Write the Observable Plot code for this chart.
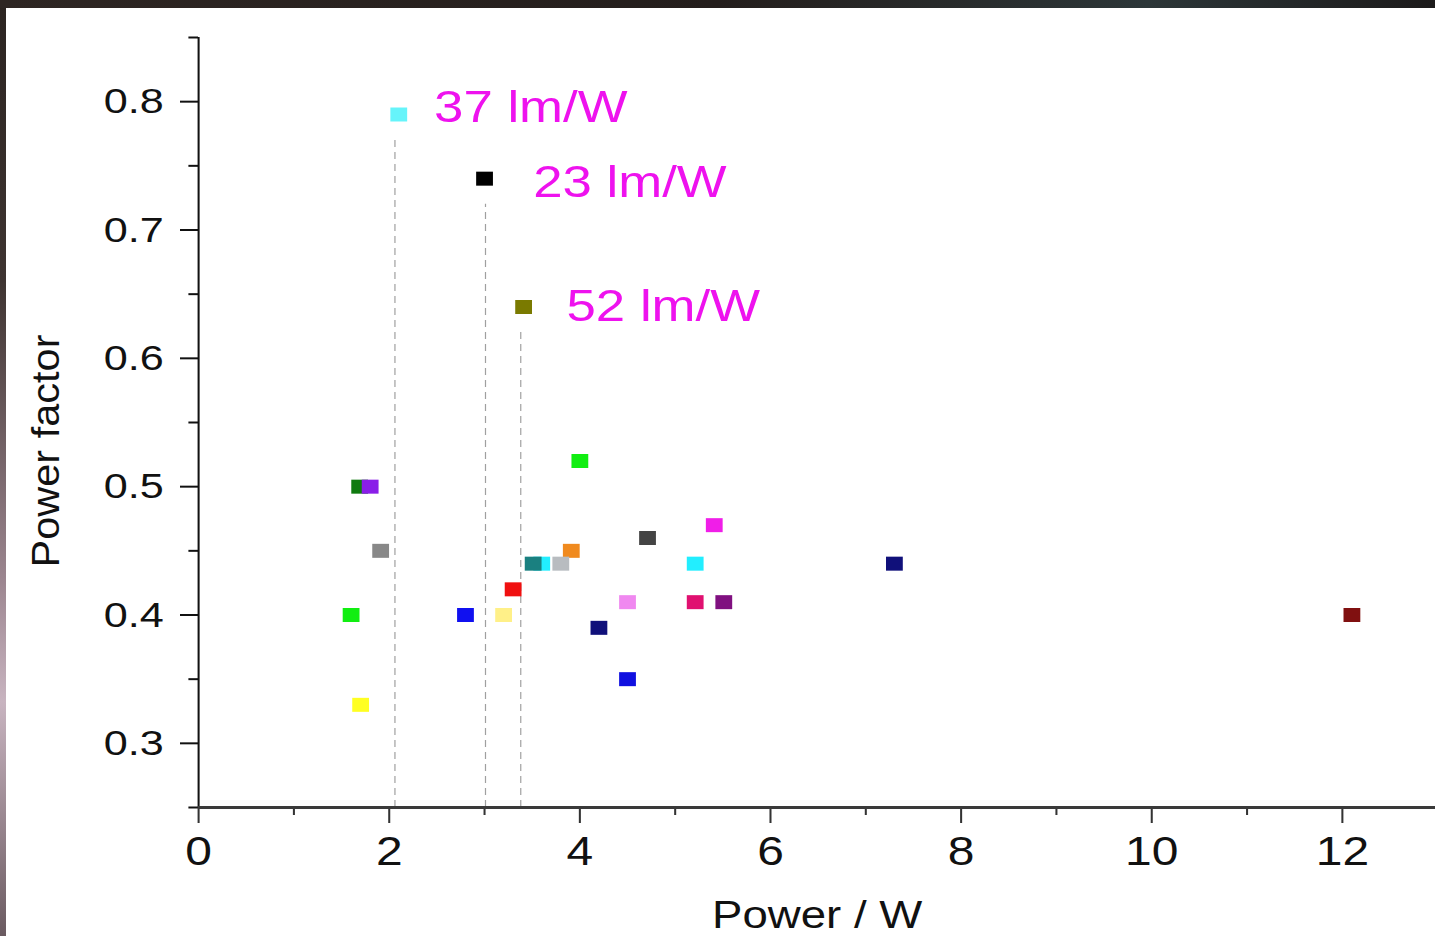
<!DOCTYPE html>
<html>
<head>
<meta charset="utf-8">
<script src="https://cdn.jsdelivr.net/npm/d3@7"></script>
<script src="https://cdn.jsdelivr.net/npm/@observablehq/plot@0.6"></script>
<style>
html, body { margin: 0; padding: 0; }
body {
  width: 1435px; height: 936px; overflow: hidden; position: relative;
  background: linear-gradient(180deg, #2b2421 0%, #3e3431 30%, #9c8690 62%, #c8b4c0 75%, #6a5a60 100%);
}
#topstrip { position: absolute; left: 0; top: 0; width: 1435px; height: 8px;
  background: linear-gradient(90deg, #2e2623 0%, #241e1c 50%, #2c3638 80%, #1c1a1a 100%); }
#frame { position: absolute; left: 6px; top: 8px; width: 1429px; height: 928px; background: #fff; }
</style>
</head>
<body>
<div id="topstrip"></div>
<div id="frame"></div>
<script>
// ---- data ----
const power = [2.10, 3.00, 3.41, 4.00, 1.69, 1.80, 1.91, 5.41, 4.71, 3.91, 3.60, 3.51, 3.80, 3.30, 5.21, 7.30, 1.60, 2.80, 3.20, 4.50, 5.21, 5.51, 4.20, 4.50, 1.70, 12.10];
const powerFactor = [0.79, 0.74, 0.64, 0.52, 0.50, 0.50, 0.45, 0.47, 0.46, 0.45, 0.44, 0.44, 0.44, 0.42, 0.44, 0.44, 0.40, 0.40, 0.40, 0.41, 0.41, 0.41, 0.39, 0.35, 0.33, 0.40];
const pointColors = ["#66f4fa", "#000000", "#7a7a00", "#11ee11", "#107a10", "#8a1ee8", "#888888", "#f01ee8", "#444444", "#f08a1e", "#22eeff", "#1a8080", "#b8bcc0", "#f01010", "#22eeff", "#10107a", "#11ee11", "#1010f0", "#fff088", "#f088f0", "#e01070", "#801080", "#10107a", "#1010e0", "#ffff22", "#801010"];

const efficacyLabels = ["37 lm/W", "23 lm/W", "52 lm/W"];
const efficacyLabelX = [2.47, 3.51, 3.86];
const efficacyLabelY = [0.795, 0.737, 0.640];
const dropLineX = [2.06, 3.01, 3.38];
const dropLineTop = [0.77, 0.72, 0.624];

const xTicks = [0, 2, 4, 6, 8, 10, 12];
const xMinorTicks = [1, 3, 5, 7, 9, 11];
const yTicks = [0.3, 0.4, 0.5, 0.6, 0.7, 0.8];
const yMinorTicks = [0.25, 0.35, 0.45, 0.55, 0.65, 0.75, 0.85];
const xTitle = "Power / W";
const yTitle = "Power factor";

// ---- build ----
const points = power.map((p, i) => ({power: p, pf: powerFactor[i], color: pointColors[i]}));
const labels = efficacyLabels.map((t, i) => ({text: t, x: efficacyLabelX[i], y: efficacyLabelY[i]}));
const drops = dropLineX.map((x, i) => ({x, top: dropLineTop[i]}));

const S = 1.2;              // horizontal stretch of the original picture
const W = 1191, H = 928;    // drawing coordinates (stretched to 1429 px wide)
const font = "'Liberation Sans', Arial, Helvetica, sans-serif";

const chart = Plot.plot({
  width: W, height: H,
  marginLeft: 160, marginRight: 0, marginTop: 29, marginBottom: 129,
  style: {fontFamily: font, background: "white", color: "#111", overflow: "visible"},
  x: {domain: [0, 12.98], label: null},
  y: {domain: [0.25, 0.85], label: null},
  marks: [
    Plot.ruleX(drops, {x: "x", y1: 0.25, y2: "top", stroke: "#a0a0a0", strokeWidth: 1, strokeDasharray: "7,5"}),
    Plot.axisY(yTicks, {anchor: "left", tickSize: 15, tickPadding: 14, fontSize: 36, strokeWidth: 2, tickFormat: d3.format(".1f"), label: null}),
    Plot.axisY(yMinorTicks, {anchor: "left", tickSize: 8, strokeWidth: 2, text: null, label: null}),
    Plot.axisX(xTicks, {anchor: "bottom", tickSize: 16, tickPadding: 13, fontSize: 40, strokeWidth: 1.7, stroke: "#333", tickFormat: d3.format("d"), label: null}),
    Plot.axisX(xMinorTicks, {anchor: "bottom", tickSize: 8, strokeWidth: 1.7, stroke: "#333", text: null, label: null}),
    Plot.ruleX([0], {stroke: "#111", strokeWidth: 1.7}),
    Plot.ruleY([0.25], {stroke: "#3a3a3a", strokeWidth: 3}),
    Plot.dot(points, {x: "power", y: "pf", fill: "color", symbol: "square", r: 7.9, stroke: null}),
    Plot.text(labels, {x: "x", y: "y", text: "text", fill: "#ee12ee", fontSize: 44, textAnchor: "start"}),
    Plot.text([xTitle], {frameAnchor: "bottom", dy: 120, lineAnchor: "bottom", fontSize: 38, fill: "#111"}),
    Plot.text([yTitle], {frameAnchor: "left", dx: -127, dy: 145, rotate: -90, textAnchor: "start", fontSize: 33, fill: "#111"})
  ]
});

chart.setAttribute("width", W * S);
chart.setAttribute("height", H);
chart.setAttribute("preserveAspectRatio", "none");
chart.style.width = (W * S) + "px";
chart.style.height = H + "px";
chart.style.maxWidth = "none";
chart.style.display = "block";
chart.querySelectorAll("text").forEach(t => {
  if (t.textContent === yTitle) {
    t.setAttribute("textLength", 233);
    t.setAttribute("lengthAdjust", "spacingAndGlyphs");
  }
});
document.getElementById("frame").appendChild(chart);
</script>
</body>
</html>
